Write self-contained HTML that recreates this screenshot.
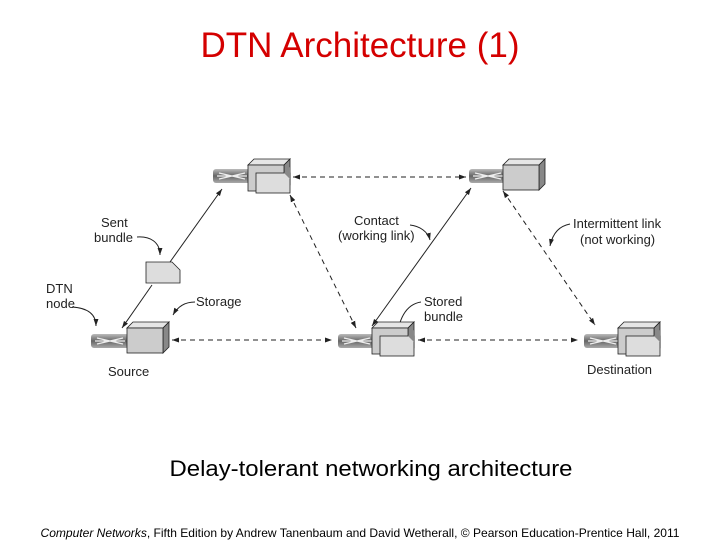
<!DOCTYPE html>
<html><head><style>
body{margin:0;background:#fff;width:720px;height:540px;overflow:hidden}
svg{display:block}
text{font-family:"Liberation Sans",sans-serif}
</style></head><body>
<svg width="720" height="540" viewBox="0 0 720 540">
<defs>
<marker id="ar" viewBox="0 0 10 10" refX="10" refY="5" markerWidth="7" markerHeight="7" orient="auto-start-reverse"><path d="M0,1.5 L10,5 L0,8.5 z" fill="#222"/></marker>
<linearGradient id="rt" x1="0" y1="0" x2="0" y2="1"><stop offset="0" stop-color="#bbb"/><stop offset="0.5" stop-color="#666"/><stop offset="1" stop-color="#aaa"/></linearGradient>
<g id="router"><rect x="0" y="0" width="38" height="14" rx="3" fill="url(#rt)"/><path d="M6,4 L32,10 M6,10 L32,4 M4,7 L34,7" stroke="#eee" stroke-width="1.3"/></g>
<g id="box1"><path d="M0,6 L6,0 L42,0 L42,25 L36,31 Z" fill="#999"/><path d="M0,6 L6,0 L42,0 L36,6 Z" fill="#e6e6e6" stroke="#222" stroke-width="0.8"/><path d="M36,6 L42,0 L42,25 L36,31 Z" fill="#888" stroke="#222" stroke-width="0.8"/><rect x="0" y="6" width="36" height="25" fill="#ccc" stroke="#222" stroke-width="0.8"/></g>
<g id="box2"><path d="M0,6 L6,0 L42,0 L36,6 Z" fill="#e6e6e6" stroke="#222" stroke-width="0.8"/><path d="M36,6 L42,0 L42,26 L36,32 Z" fill="#888" stroke="#222" stroke-width="0.8"/><rect x="0" y="6" width="36" height="26" fill="#ccc" stroke="#222" stroke-width="0.8"/><rect x="8" y="14" width="34" height="20" fill="#ddd" stroke="#222" stroke-width="0.8"/><path d="M36,14 L42,8 L42,20 Z" fill="#888"/></g>
</defs>
<text x="360" y="57" font-size="35" fill="#d40000" text-anchor="middle">DTN Architecture (1)</text>

<g stroke="#222" stroke-width="1" fill="none">
<line x1="293" y1="177" x2="466" y2="177" stroke-dasharray="5,4" marker-start="url(#ar)" marker-end="url(#ar)"/>
<line x1="172" y1="340" x2="332" y2="340" stroke-dasharray="5,4" marker-start="url(#ar)" marker-end="url(#ar)"/>
<line x1="418" y1="340" x2="578" y2="340" stroke-dasharray="5,4" marker-start="url(#ar)" marker-end="url(#ar)"/>
<line x1="290" y1="195" x2="356" y2="328" stroke-dasharray="5,4" marker-start="url(#ar)" marker-end="url(#ar)"/>
<line x1="503" y1="191" x2="595" y2="325" stroke-dasharray="5,4" marker-start="url(#ar)" marker-end="url(#ar)"/>
<line x1="372" y1="326" x2="471" y2="188" marker-start="url(#ar)" marker-end="url(#ar)"/>
<line x1="170" y1="262" x2="222" y2="189" marker-end="url(#ar)"/>
<line x1="152" y1="285" x2="122" y2="328" marker-end="url(#ar)"/>
<path d="M137,237 C150,236 160,242 160,255" marker-end="url(#ar)"/>
<path d="M72,307 C88,308 96,314 96,326" marker-end="url(#ar)"/>
<path d="M195,302 C185,302 178,306 173,315" marker-end="url(#ar)"/>
<path d="M410,225 C420,226 428,232 430,240" marker-end="url(#ar)"/>
<path d="M570,224 C560,226 553,232 550,246" marker-end="url(#ar)"/>
<path d="M421,302 C408,304 398,315 396,345" marker-end="url(#ar)"/>
</g>
<path d="M146,262 L172,262 L180,270 L180,283 L146,283 Z" fill="#ddd" stroke="#222" stroke-width="0.8"/>

<use href="#router" x="213" y="169"/><use href="#box2" x="248" y="159"/>
<use href="#router" x="469" y="169"/><use href="#box1" x="503" y="159"/>
<use href="#router" x="91" y="334"/><use href="#box1" x="127" y="322"/>
<use href="#router" x="338" y="334"/><use href="#box2" x="372" y="322"/>
<use href="#router" x="584" y="334"/><use href="#box2" x="618" y="322"/>

<g font-size="13" fill="#222">
<text x="101" y="227">Sent</text><text x="94" y="242">bundle</text>
<text x="46" y="293">DTN</text><text x="46" y="308">node</text>
<text x="196" y="306">Storage</text>
<text x="108" y="376">Source</text>
<text x="354" y="225">Contact</text><text x="338" y="240">(working link)</text>
<text x="573" y="228">Intermittent link</text><text x="580" y="244">(not working)</text>
<text x="424" y="306">Stored</text><text x="424" y="321">bundle</text>
<text x="587" y="374">Destination</text>
</g>
<text x="371" y="476" font-size="22" fill="#000" text-anchor="middle" textLength="403" lengthAdjust="spacingAndGlyphs">Delay-tolerant networking architecture</text>
<text x="360" y="537" font-size="12" fill="#000" text-anchor="middle" textLength="639" lengthAdjust="spacingAndGlyphs"><tspan font-style="italic">Computer Networks</tspan>, Fifth Edition by Andrew Tanenbaum and David Wetherall, © Pearson Education-Prentice Hall, 2011</text>
</svg>
</body></html>
